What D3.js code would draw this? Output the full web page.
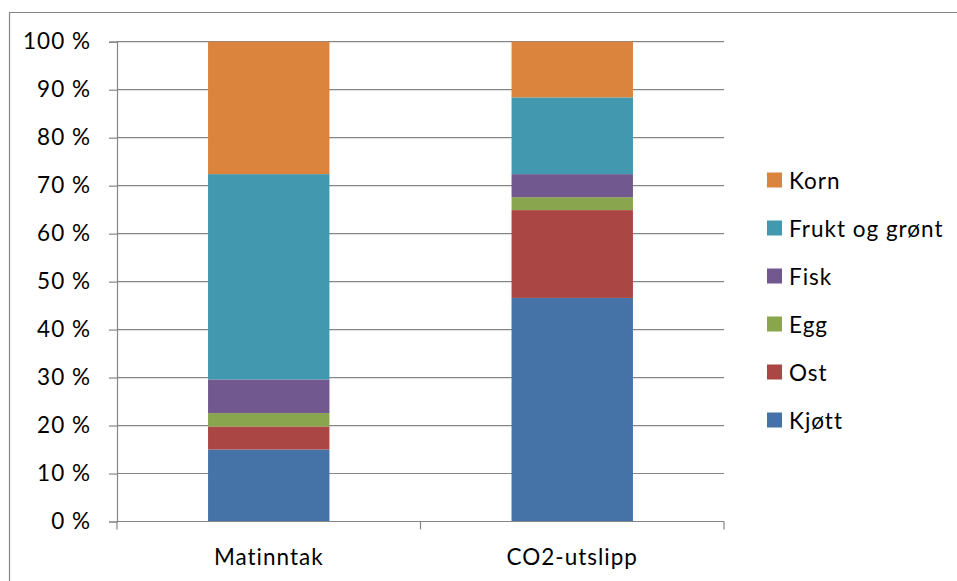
<!DOCTYPE html>
<html>
<head>
<meta charset="utf-8">
<script src="https://cdn.jsdelivr.net/npm/d3@7"></script>
<style>
  html, body { margin: 0; padding: 0; background: #fff; }
  svg { display: block; }
  text { font-family: Lato, "Liberation Sans", sans-serif; fill: #000; letter-spacing: 1px; }
</style>
</head>
<body>
<svg id="chart" width="957" height="581"></svg>
<script>
// Share of food intake vs. share of CO2 emissions, by food group (percent)
const categories = ["Matinntak", "CO2-utslipp"];
const seriesNames = ["Kjøtt", "Ost", "Egg", "Fisk", "Frukt og grønt", "Korn"];
const kjott  = [15.0, 46.6];
const ost    = [4.8, 18.3];
const egg    = [2.8, 2.7];
const fisk   = [7.0, 4.8];
const frukt  = [42.8, 16.0];
const korn   = [27.6, 11.6];
const yTicks = [0, 10, 20, 30, 40, 50, 60, 70, 80, 90, 100];
const colors = ["#4572A7", "#AA4643", "#89A54E", "#71588F", "#4198AF", "#DB843D"];

const seriesValues = [kjott, ost, egg, fisk, frukt, korn];
const rows = categories.map((c, i) => {
  const r = { category: c };
  seriesNames.forEach((s, k) => { r[s] = seriesValues[k][i]; });
  return r;
});

const svg = d3.select("#chart");
const plot = { left: 117, right: 724, top: 41.7, bottom: 521.5 };
const fontSize = "22.5px";

// Outer chart frame (top and left edges)
svg.append("path")
  .attr("d", "M9.5,581 V12.5 H957")
  .attr("fill", "none")
  .attr("stroke", "#868686")
  .attr("stroke-width", 1.2);

const x = d3.scaleBand()
  .domain(categories)
  .range([plot.left, plot.right])
  .paddingInner(0.6)
  .paddingOuter(0.3);

const y = d3.scaleLinear()
  .domain([0, 100])
  .range([plot.bottom, plot.top]);

// Horizontal gridlines
svg.append("g")
  .selectAll("line")
  .data(yTicks.filter(t => t > 0))
  .join("line")
  .attr("x1", plot.left).attr("x2", plot.right)
  .attr("y1", d => y(d)).attr("y2", d => y(d))
  .attr("stroke", "#868686")
  .attr("stroke-width", 1.2);

// Stacked bars
const stack = d3.stack().keys(seriesNames)(rows);
svg.append("g")
  .selectAll("g")
  .data(stack)
  .join("g")
  .attr("fill", (d, i) => colors[i])
  .selectAll("rect")
  .data(d => d)
  .join("rect")
  .attr("x", d => x(d.data.category))
  .attr("width", x.bandwidth())
  .attr("y", d => y(d[1]))
  .attr("height", d => y(d[0]) - y(d[1]));

// Y axis
const yAxis = svg.append("g")
  .attr("transform", `translate(${plot.left},0)`)
  .call(d3.axisLeft(y).tickValues(yTicks).tickFormat(d => d + " %").tickSize(8).tickPadding(18));
yAxis.select(".domain").attr("stroke", "#868686").attr("stroke-width", 1.2);
yAxis.selectAll(".tick line").attr("stroke", "#868686").attr("stroke-width", 1.2);
yAxis.selectAll("text").style("font-size", fontSize).style("font-family", null).attr("fill", "#000");
yAxis.attr("font-family", null);

// X axis with boundary ticks between categories
const xAxisG = svg.append("g");
xAxisG.append("line")
  .attr("x1", plot.left).attr("x2", plot.right)
  .attr("y1", plot.bottom).attr("y2", plot.bottom)
  .attr("stroke", "#868686").attr("stroke-width", 1.2);
const boundaries = [plot.left].concat(categories.map(c => x(c) + x.bandwidth() + x.step() * x.paddingInner() / 2));
boundaries[boundaries.length - 1] = plot.right;
xAxisG.selectAll(".btick")
  .data(boundaries)
  .join("line")
  .attr("x1", d => d).attr("x2", d => d)
  .attr("y1", plot.bottom).attr("y2", plot.bottom + 8)
  .attr("stroke", "#868686").attr("stroke-width", 1.2);
xAxisG.selectAll(".xlabel")
  .data(categories)
  .join("text")
  .attr("x", d => x(d) + x.bandwidth() / 2)
  .attr("y", 556)
  .attr("text-anchor", "middle")
  .attr("dominant-baseline", "central")
  .style("font-size", fontSize)
  .text(d => d);

// Legend (top entry is the top of the stack)
const legend = svg.append("g");
const legendItems = seriesNames.map((s, i) => ({ name: s, color: colors[i] })).reverse();
const lg = legend.selectAll("g")
  .data(legendItems)
  .join("g")
  .attr("transform", (d, i) => `translate(767,${180 + i * 48})`);
lg.append("rect")
  .attr("x", 0).attr("y", -7.5)
  .attr("width", 15).attr("height", 15)
  .attr("fill", d => d.color);
lg.append("text")
  .attr("x", 22).attr("y", 0)
  .attr("dominant-baseline", "central")
  .style("font-size", fontSize)
  .text(d => d.name);
</script>
</body>
</html>
